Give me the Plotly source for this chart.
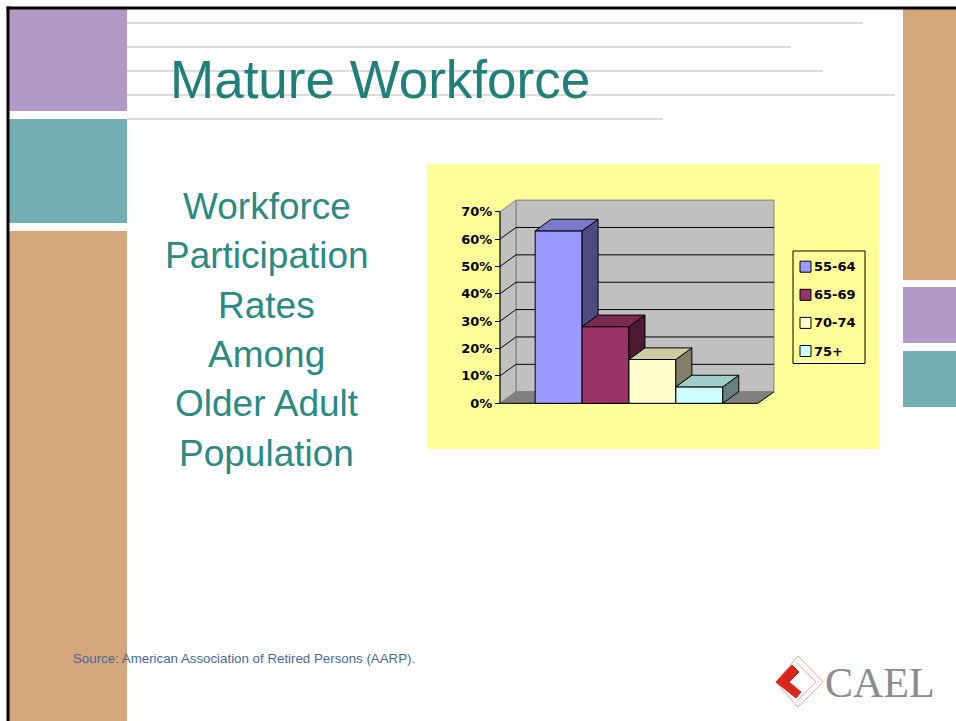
import plotly.graph_objects as go

# ---------------- data ----------------
age_groups = ["55-64", "65-69", "70-74", "75+"]
participation = [63, 28, 16, 6]          # percent
bar_colors = ["#9999ff", "#993366", "#ffffcc", "#ccffff"]
y_ticks = [0, 10, 20, 30, 40, 50, 60, 70]
title_text = "Mature Workforce"
side_lines = ["Workforce", "Participation", "Rates", "Among", "Older Adult", "Population"]
source_text = "Source: American Association of Retired Persons (AARP)."
logo_text = "CAEL"

# ---------------- helpers ----------------
W, H = 956, 721


def px(x):
    return x / W


def py(y):
    return 1 - y / H


def shade(hexc, f):
    r, g, b = int(hexc[1:3], 16), int(hexc[3:5], 16), int(hexc[5:7], 16)
    return f"rgb({round(r * f)},{round(g * f)},{round(b * f)})"


# chart geometry (pixel calibration of the axes)
n = len(age_groups)
GAP = 0.75
FLOOR = n + 2 * GAP
DX, DY = 0.341, 4.24          # 3-D depth offset in data units
X_PX0, UNIT_PX = 500, 46.9
Y_PX0, PCT_PX = 403.3, 2.737
DOM_X = (427, 879)
DOM_Y = (164, 449)
x_range = [(DOM_X[0] - X_PX0) / UNIT_PX, (DOM_X[1] - X_PX0) / UNIT_PX]
y_range = [(Y_PX0 - DOM_Y[1]) / PCT_PX, (Y_PX0 - DOM_Y[0]) / PCT_PX]
YTOP = y_ticks[-1]

fig = go.Figure()

# front faces of the columns
centers = [GAP + i + 0.5 for i in range(n)]
fig.add_trace(go.Bar(
    x=centers, y=participation, width=[1] * n,
    marker=dict(color=bar_colors, line=dict(color="black", width=1)),
    hoverinfo="skip", showlegend=False,
))

# top and side faces
for i, v in enumerate(participation):
    x0 = GAP + i
    x1 = x0 + 1
    nxt = participation[i + 1] if i + 1 < n else 0
    lo = min(nxt, v)
    fig.add_trace(go.Scatter(
        x=[x1, x1, x1 + DX, x1 + DX, x1], y=[lo, v, v + DY, lo + DY, lo],
        mode="lines", fill="toself", fillcolor=shade(bar_colors[i], 0.5),
        line=dict(color="black", width=1), hoverinfo="skip", showlegend=False,
    ))
    fig.add_trace(go.Scatter(
        x=[x0, x1, x1 + DX, x0 + DX, x0], y=[v, v, v + DY, v + DY, v],
        mode="lines", fill="toself", fillcolor=shade(bar_colors[i], 0.8),
        line=dict(color="black", width=1), hoverinfo="skip", showlegend=False,
    ))

shapes = []


def prect(x0, y0, x1, y1, fill, line=None, lw=0):
    shapes.append(dict(type="rect", xref="paper", yref="paper",
                       x0=px(x0), x1=px(x1), y0=py(y1), y1=py(y0),
                       fillcolor=fill, line=dict(color=line or fill, width=lw),
                       layer="below"))


def pline(x0, y0, x1, y1, color, lw):
    shapes.append(dict(type="line", xref="paper", yref="paper",
                       x0=px(x0), x1=px(x1), y0=py(y0), y1=py(y1),
                       line=dict(color=color, width=lw), layer="below"))


def ppath(points, fill=None, line=None, lw=1, close=True):
    d = "M " + " L ".join(f"{px(a):.5f},{py(b):.5f}" for a, b in points)
    if close:
        d += " Z"
    shapes.append(dict(type="path", xref="paper", yref="paper", path=d,
                       fillcolor=fill if fill else "rgba(0,0,0,0)",
                       line=dict(color=line if line else "rgba(0,0,0,0)", width=lw),
                       layer="above"))


PURPLE, TEAL, TAN = "#b399c7", "#73aeb5", "#d3a67c"
# left blocks
prect(9, 9, 127, 111, PURPLE)
prect(9, 119, 127, 223, TEAL)
prect(9, 231, 127, 721, TAN)
# right blocks
prect(903, 9, 956, 280, TAN)
prect(903, 287, 956, 343, PURPLE)
prect(903, 351, 956, 407, TEAL)
# grey rules
for yy, xe in [(23, 863), (47, 791), (71, 823), (95, 895), (119, 663)]:
    pline(127, yy, xe, yy, "#dcdcdc", 2)
# black frame
pline(6.5, 8, 956, 8, "black", 3)
pline(8, 6.5, 8, 721, "black", 3)
# chart background
prect(427, 164, 879, 449, "#ffff99")


def dshape(kind, **kw):
    d = dict(type=kind, xref="x", yref="y", layer="below")
    d.update(kw)
    shapes.append(d)


# walls and floor
dshape("rect", x0=DX, x1=FLOOR + DX, y0=DY, y1=YTOP + DY,
       fillcolor="#c0c0c0", line=dict(color="#808080", width=1))
dshape("path", path=f"M 0,0 L 0,{YTOP} L {DX},{YTOP + DY} L {DX},{DY} Z",
       fillcolor="#c0c0c0", line=dict(color="#808080", width=1))
dshape("path", path=f"M 0,0 L {FLOOR},0 L {FLOOR + DX},{DY} L {DX},{DY} Z",
       fillcolor="#808080", line=dict(color="#808080", width=1))
for t in y_ticks[1:-1]:
    dshape("line", x0=DX, x1=FLOOR + DX, y0=t + DY, y1=t + DY,
           line=dict(color="black", width=1))
    dshape("line", x0=0, x1=DX, y0=t, y1=t + DY, line=dict(color="black", width=1))
dshape("line", x0=0, x1=0, y0=0, y1=YTOP, line=dict(color="black", width=1))
dshape("line", x0=0, x1=FLOOR, y0=0, y1=0, line=dict(color="black", width=1))
dshape("line", x0=FLOOR, x1=FLOOR + DX, y0=0, y1=DY, line=dict(color="black", width=1))

annotations = []

# legend (manual, Excel style)
LEG_X0, LEG_X1, LEG_Y0, LEG_Y1 = 793, 865, 251, 363.5
shapes.append(dict(type="rect", xref="paper", yref="paper", x0=px(LEG_X0), x1=px(LEG_X1),
                   y0=py(LEG_Y1), y1=py(LEG_Y0), line=dict(color="black", width=1),
                   fillcolor="rgba(0,0,0,0)", layer="above"))
for i, g in enumerate(age_groups):
    yc = 266.7 + i * 28.1
    shapes.append(dict(type="rect", xref="paper", yref="paper", x0=px(800), x1=px(811),
                       y0=py(yc + 5.5), y1=py(yc - 5.5), fillcolor=bar_colors[i],
                       line=dict(color="black", width=1), layer="above"))
    annotations.append(dict(xref="paper", yref="paper", x=px(812), y=py(yc),
                            xanchor="left", yanchor="middle", showarrow=False, text=g,
                            font=dict(family="DejaVu Sans", size=13, color="black",
                                      weight="bold")))

# CAEL logo
ppath([(776, 682), (798, 656), (823, 682), (798, 707)], line="#f1a596", lw=1)
ppath([(797, 663), (816, 682), (797, 701)], line="#f1a596", lw=1, close=False)
ppath([(776, 682), (792, 665), (799, 672), (789, 682), (801, 692), (796, 698)],
      fill="#d8261c", line="#d8261c", lw=1)
annotations.append(dict(xref="paper", yref="paper", x=px(880), y=py(683),
                        xanchor="center", yanchor="middle", showarrow=False, text=logo_text,
                        font=dict(family="Liberation Serif", size=42, color="#8c8c8c")))

# title and texts
annotations.append(dict(xref="paper", yref="paper", x=px(168), y=py(79.5),
                        xanchor="left", yanchor="middle", showarrow=False, text=title_text,
                        font=dict(family="Liberation Sans", size=53, color="#1f7f7a")))
for k, s in enumerate(side_lines):
    base = 219 + k * 49.4
    annotations.append(dict(xref="paper", yref="paper", x=px(266.5), y=py(base - 12.8),
                            xanchor="center", yanchor="middle", showarrow=False, text=s,
                            font=dict(family="Liberation Sans", size=37, color="#2a8a84")))
annotations.append(dict(xref="paper", yref="paper", x=px(71), y=py(658),
                        xanchor="left", yanchor="middle", showarrow=False, text=source_text,
                        font=dict(family="Liberation Sans", size=13.3, color="#45689f")))

fig.update_layout(
    width=W, height=H,
    margin=dict(l=0, r=0, t=0, b=0),
    paper_bgcolor="white", plot_bgcolor="rgba(0,0,0,0)",
    barmode="overlay", showlegend=False,
    xaxis=dict(domain=[px(DOM_X[0]), px(DOM_X[1])], range=x_range, visible=False,
               fixedrange=True),
    yaxis=dict(domain=[py(DOM_Y[1]), py(DOM_Y[0])], range=y_range, anchor="free",
               position=px(X_PX0), tickvals=y_ticks, ticktext=[f"{t}%" for t in y_ticks],
               ticks="outside", ticklen=5, tickwidth=1, tickcolor="black",
               showgrid=False, zeroline=False, showline=False, fixedrange=True,
               tickfont=dict(family="DejaVu Sans", size=13, color="black", weight="bold")),
    shapes=shapes, annotations=annotations,
)

fig.write_html(
    "out.html",
    config={"displayModeBar": False},
    post_script="document.body.style.margin='0px';document.body.style.overflow='hidden';",
)
